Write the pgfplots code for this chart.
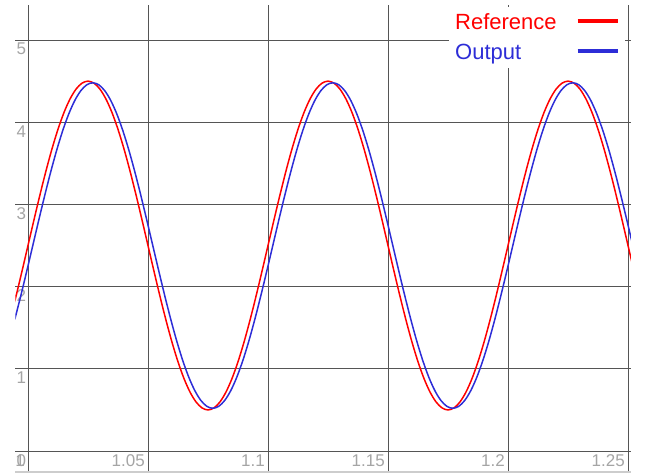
\documentclass[border=0pt]{standalone}
\usepackage{pgfplots}
\pgfplotsset{compat=1.18}
\usepackage{pgfplotstable}
\usepackage{fontspec}
\setmainfont{Liberation Sans}
\definecolor{refred}{RGB}{255,0,0}
\definecolor{outblue}{RGB}{45,45,215}
\definecolor{gridc}{RGB}{85,85,85}
\definecolor{tickc}{RGB}{165,165,165}
\definecolor{basec}{RGB}{205,205,205}

\pgfplotstableread{
x xb r b
0.9925 0.9945 1.5920 1.6011
0.9950 0.9970 1.8820 1.8882
0.9975 0.9995 2.1871 2.1903
1.0000 1.0020 2.5000 2.5000
1.0025 1.0045 2.8129 2.8097
1.0050 1.0070 3.1180 3.1118
1.0075 1.0095 3.4080 3.3989
1.0100 1.0120 3.6756 3.6638
1.0125 1.0145 3.9142 3.9001
1.0150 1.0170 4.1180 4.1018
1.0175 1.0195 4.2820 4.2642
1.0200 1.0220 4.4021 4.3832
1.0225 1.0245 4.4754 4.4556
1.0250 1.0270 4.5000 4.4800
1.0275 1.0295 4.4754 4.4556
1.0300 1.0320 4.4021 4.3832
1.0325 1.0345 4.2820 4.2642
1.0350 1.0370 4.1180 4.1018
1.0375 1.0395 3.9142 3.9001
1.0400 1.0420 3.6756 3.6638
1.0425 1.0445 3.4080 3.3989
1.0450 1.0470 3.1180 3.1118
1.0475 1.0495 2.8129 2.8097
1.0500 1.0520 2.5000 2.5000
1.0525 1.0545 2.1871 2.1903
1.0550 1.0570 1.8820 1.8882
1.0575 1.0595 1.5920 1.6011
1.0600 1.0620 1.3244 1.3362
1.0625 1.0645 1.0858 1.0999
1.0650 1.0670 0.8820 0.8982
1.0675 1.0695 0.7180 0.7358
1.0700 1.0720 0.5979 0.6168
1.0725 1.0745 0.5246 0.5444
1.0750 1.0770 0.5000 0.5200
1.0775 1.0795 0.5246 0.5444
1.0800 1.0820 0.5979 0.6168
1.0825 1.0845 0.7180 0.7358
1.0850 1.0870 0.8820 0.8982
1.0875 1.0895 1.0858 1.0999
1.0900 1.0920 1.3244 1.3362
1.0925 1.0945 1.5920 1.6011
1.0950 1.0970 1.8820 1.8882
1.0975 1.0995 2.1871 2.1903
1.1000 1.1020 2.5000 2.5000
1.1025 1.1045 2.8129 2.8097
1.1050 1.1070 3.1180 3.1118
1.1075 1.1095 3.4080 3.3989
1.1100 1.1120 3.6756 3.6638
1.1125 1.1145 3.9142 3.9001
1.1150 1.1170 4.1180 4.1018
1.1175 1.1195 4.2820 4.2642
1.1200 1.1220 4.4021 4.3832
1.1225 1.1245 4.4754 4.4556
1.1250 1.1270 4.5000 4.4800
1.1275 1.1295 4.4754 4.4556
1.1300 1.1320 4.4021 4.3832
1.1325 1.1345 4.2820 4.2642
1.1350 1.1370 4.1180 4.1018
1.1375 1.1395 3.9142 3.9001
1.1400 1.1420 3.6756 3.6638
1.1425 1.1445 3.4080 3.3989
1.1450 1.1470 3.1180 3.1118
1.1475 1.1495 2.8129 2.8097
1.1500 1.1520 2.5000 2.5000
1.1525 1.1545 2.1871 2.1903
1.1550 1.1570 1.8820 1.8882
1.1575 1.1595 1.5920 1.6011
1.1600 1.1620 1.3244 1.3362
1.1625 1.1645 1.0858 1.0999
1.1650 1.1670 0.8820 0.8982
1.1675 1.1695 0.7180 0.7358
1.1700 1.1720 0.5979 0.6168
1.1725 1.1745 0.5246 0.5444
1.1750 1.1770 0.5000 0.5200
1.1775 1.1795 0.5246 0.5444
1.1800 1.1820 0.5979 0.6168
1.1825 1.1845 0.7180 0.7358
1.1850 1.1870 0.8820 0.8982
1.1875 1.1895 1.0858 1.0999
1.1900 1.1920 1.3244 1.3362
1.1925 1.1945 1.5920 1.6011
1.1950 1.1970 1.8820 1.8882
1.1975 1.1995 2.1871 2.1903
1.2000 1.2020 2.5000 2.5000
1.2025 1.2045 2.8129 2.8097
1.2050 1.2070 3.1180 3.1118
1.2075 1.2095 3.4080 3.3989
1.2100 1.2120 3.6756 3.6638
1.2125 1.2145 3.9142 3.9001
1.2150 1.2170 4.1180 4.1018
1.2175 1.2195 4.2820 4.2642
1.2200 1.2220 4.4021 4.3832
1.2225 1.2245 4.4754 4.4556
1.2250 1.2270 4.5000 4.4800
1.2275 1.2295 4.4754 4.4556
1.2300 1.2320 4.4021 4.3832
1.2325 1.2345 4.2820 4.2642
1.2350 1.2370 4.1180 4.1018
1.2375 1.2395 3.9142 3.9001
1.2400 1.2420 3.6756 3.6638
1.2425 1.2445 3.4080 3.3989
1.2450 1.2470 3.1180 3.1118
1.2475 1.2495 2.8129 2.8097
1.2500 1.2520 2.5000 2.5000
1.2525 1.2545 2.1871 2.1903
}\wave

\begin{document}
\begin{tikzpicture}
\begin{axis}[name=ax,
  scale only axis, width=615.4pt, height=467.3pt,
  xmin=0.9948, xmax=1.2512, ymin=-0.255, ymax=5.43,
  axis x line*=bottom, axis y line*=left,
  x axis line style={draw=basec, line width=1.2pt, -},
  y axis line style={draw=none, -},
  xtick={1,1.05,1.1,1.15,1.2,1.25},
  xticklabels={1,1.05,1.1,1.15,1.2,1.25},
  ytick={0,1,2,3,4,5},
  yticklabels={0,1,2,3,4,5},
  major tick length=0pt,
  grid=major,
  grid style={draw=gridc, line width=0.8pt},
  tick label style={font=\fontsize{17}{20}\selectfont, text=tickc, inner sep=0pt},
  xticklabel style={anchor=base east, xshift=-3pt, yshift=6pt},
  yticklabel style={anchor=north west, xshift=1pt, yshift=-3pt},
  legend plot pos=right,
  legend cell align=left,
  legend style={at={(rel axis cs:1,1)}, anchor=north east, xshift=-6pt, yshift=-2pt,
    draw=none, fill=white, font=\fontsize{22}{26}\selectfont,
    inner xsep=5pt, inner ysep=6pt, row sep=11pt, column sep=18pt,
    nodes={inner sep=1pt}},
]
\addplot[refred, line width=1.5pt, smooth,
  legend image code/.code={\draw[refred, line width=4pt] (0pt,2pt) -- (40pt,2pt);}]
  table[x=x, y=r] {\wave};
\addlegendentry{\textcolor{refred}{Reference}}
\addplot[outblue, line width=1.5pt, smooth,
  legend image code/.code={\draw[outblue, line width=4pt] (0pt,2pt) -- (40pt,2pt);}]
  table[x=xb, y=b] {\wave};
\addlegendentry{\textcolor{outblue}{Output}}
\end{axis}
\path (ax.south west) ++(-15.5pt,-2pt) rectangle ++(645pt,474pt);
\end{tikzpicture}
\end{document}
